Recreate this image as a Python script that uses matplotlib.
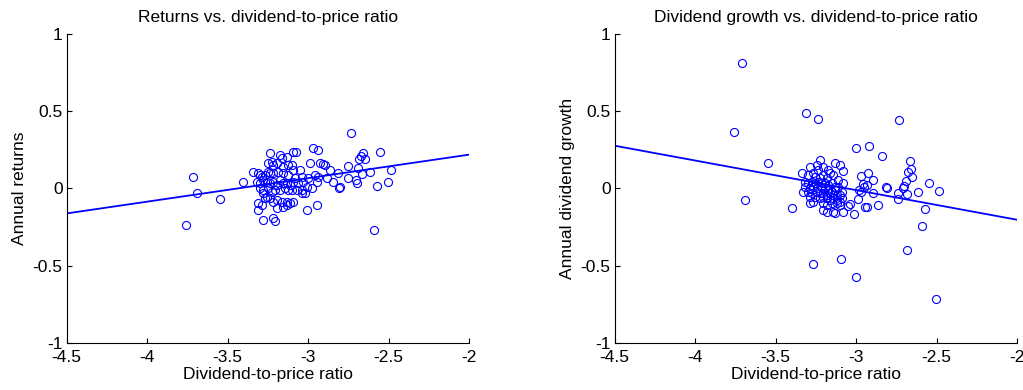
import numpy as np
import matplotlib
matplotlib.use("Agg")
import matplotlib.pyplot as plt

plt.rcParams["font.family"] = ["Liberation Sans", "DejaVu Sans"]
plt.rcParams["axes.unicode_minus"] = False

# returns vs dividend-to-price ratio (left panel)
dp_ret = [
    -3.237, -3.175, -3.133, -3.092, -3.075, -2.972, -2.937, -3.247, -3.226, -3.216,
    -3.195, -3.164, -3.154, -3.123, -3.102, -3.092, -3.050, -2.988, -2.926, -2.906,
    -2.895, -2.864, -2.812, -2.750, -3.340, -3.309, -3.299, -3.288, -3.268, -3.247,
    -3.237, -3.216, -3.185, -3.154, -3.123, -3.081, -3.040, -2.999, -2.957, -2.937,
    -2.885, -2.750, -3.402, -3.320, -3.299, -3.278, -3.257, -3.237, -3.216, -3.195,
    -3.175, -3.154, -3.133, -3.113, -3.092, -3.061, -3.030, -3.009, -2.947, -2.843,
    -2.802, -3.299, -3.278, -3.247, -3.226, -3.206, -3.175, -3.144, -3.123, -3.102,
    -3.071, -3.040, -3.019, -2.978, -3.278, -3.257, -3.237, -3.216, -3.195, -3.164,
    -3.133, -3.113, -3.092, -3.040, -3.268, -3.309, -3.288, -3.309, -3.195, -3.154,
    -3.133, -3.009, -2.947, -3.282, -3.216, -3.206,
    -2.735, -3.713, -3.761, -3.690, -3.547, -2.590, -2.551, -2.487, -2.505, -2.572,
    -2.613, -2.657, -2.673, -2.683, -2.648, -2.688, -2.667, -2.702, -2.698, -2.810,
]
ret = [
    0.228, 0.217, 0.206, 0.239, 0.239, 0.260, 0.250, 0.163, 0.174, 0.152,
    0.163, 0.196, 0.142, 0.152, 0.152, 0.120, 0.120, 0.163, 0.163, 0.159,
    0.152, 0.120, 0.098, 0.146, 0.109, 0.098, 0.088, 0.077, 0.088, 0.109,
    0.098, 0.098, 0.109, 0.098, 0.088, 0.066, 0.077, 0.066, 0.088, 0.077,
    0.066, 0.066, 0.044, 0.044, 0.034, 0.055, 0.044, 0.034, 0.044, 0.023,
    0.055, 0.034, 0.034, 0.023, 0.044, 0.034, 0.044, 0.012, 0.044, 0.044,
    0.012, 0.001, -0.010, 0.001, -0.021, -0.010, -0.010, 0.001, -0.010, -0.010,
    -0.010, -0.010, -0.031, 0.001, -0.031, -0.053, -0.064, -0.085, -0.074, -0.085,
    -0.085, -0.096, -0.085, -0.031, -0.064, -0.096, -0.107, -0.139, -0.129, -0.118,
    -0.107, -0.139, -0.107, -0.204, -0.193, -0.208,
    0.361, 0.074, -0.234, -0.028, -0.071, -0.271, 0.236, 0.119, 0.043, 0.017,
    0.104, 0.232, 0.212, 0.193, 0.188, 0.134, 0.091, 0.054, 0.037, 0.000,
]

# dividend growth vs dividend-to-price ratio (right panel)
dp_div = [
    -3.224, -3.131, -3.100, -3.079, -3.286, -3.245, -3.203, -3.172, -3.162, -3.141,
    -3.110, -3.084, -3.338, -3.297, -3.266, -3.255, -3.224, -3.203, -3.183, -3.235,
    -3.317, -3.297, -3.276, -3.255, -3.235, -3.214, -3.193, -3.172, -3.152, -3.131,
    -3.110, -3.090, -3.317, -3.286, -3.266, -3.245, -3.214, -3.193, -3.172, -3.152,
    -3.131, -3.328, -3.297, -3.276, -3.245, -3.224, -3.203, -3.183, -3.162, -3.141,
    -3.121, -3.100, -3.286, -3.255, -3.224, -3.203, -3.183, -3.162, -3.141, -3.121,
    -3.100, -3.090, -3.266, -3.286, -3.203, -3.183, -3.152, -3.121, -3.100, -3.203,
    -3.183, -3.141, -3.131, -3.079,
    -3.711, -3.309, -3.234, -2.735, -3.758, -2.998, -2.918, -2.839, -3.545, -2.665,
    -2.659, -2.675, -2.650, -2.690, -2.700, -2.708, -2.549, -2.485, -2.613, -2.684,
    -2.742, -2.742, -2.572, -2.588, -2.684, -2.503, -3.092, -3.270, -3.002, -3.688,
    -3.400, -2.814, -2.808, -2.866, -2.897, -2.893, -2.928, -2.969, -2.944, -2.932,
    -2.990, -3.011, -3.036, -3.048, -2.932, -2.953, -2.969, -2.980, -2.960,
]
div_growth = [
    0.184, 0.167, 0.152, 0.115, 0.141, 0.152, 0.141, 0.119, 0.097, 0.087,
    0.054, 0.033, 0.097, 0.087, 0.097, 0.076, 0.065, 0.087, 0.065, 0.119,
    0.043, 0.033, 0.043, 0.033, 0.043, 0.033, 0.033, 0.022, 0.033, 0.011,
    0.011, -0.022, 0.011, 0.000, 0.011, 0.000, 0.000, 0.000, -0.011, -0.022,
    -0.011, -0.022, -0.022, -0.032, -0.022, -0.032, -0.032, -0.043, -0.032, -0.043,
    -0.043, -0.043, -0.054, -0.054, -0.065, -0.054, -0.065, -0.076, -0.065, -0.076,
    -0.087, -0.065, -0.087, -0.097, -0.097, -0.108, -0.097, -0.097, -0.108, -0.141,
    -0.151, -0.151, -0.162, -0.151,
    0.814, 0.489, 0.452, 0.446, 0.368, 0.260, 0.277, 0.212, 0.165, 0.175,
    0.123, 0.108, 0.076, 0.050, 0.015, 0.006, 0.037, -0.017, -0.024, -0.039,
    -0.032, -0.067, -0.132, -0.245, -0.396, -0.716, -0.457, -0.487, -0.571, -0.078,
    -0.126, 0.011, 0.004, -0.106, -0.032, 0.054, 0.097, 0.080, -0.119, -0.119,
    -0.071, -0.165, -0.102, -0.115, 0.022, 0.011, -0.022, -0.011, 0.032,
]

# fitted lines: intercept, slope
fit_ret = (0.524, 0.1524)
fit_div = (-0.587, -0.192)

xticks = [-4.5, -4, -3.5, -3, -2.5, -2]
xticklabels = ["-4.5", "-4", "-3.5", "-3", "-2.5", "-2"]
yticks = [-1, -0.5, 0, 0.5, 1]
yticklabels = ["-1", "-0.5", "0", "0.5", "1"]

fig = plt.figure(figsize=(10.23, 3.90), dpi=100)
ax1 = fig.add_axes([0.0652, 0.1213, 0.3934, 0.791])
ax2 = fig.add_axes([0.6009, 0.1213, 0.3933, 0.791])

panels = [
    (ax1, dp_ret, ret, fit_ret, "Returns vs. dividend-to-price ratio", "Annual returns"),
    (ax2, dp_div, div_growth, fit_div, "Dividend growth vs. dividend-to-price ratio", "Annual dividend growth"),
]

for ax, x, y, fit, title, ylabel in panels:
    ax.plot(x, y, "o", mfc="none", mec="#0000ff", ms=5.8, mew=0.8)
    xl = np.array([-4.5, -2])
    ax.plot(xl, fit[0] + fit[1] * xl, color="#0000ff", lw=1.3)
    ax.set_xlim(-4.5, -2)
    ax.set_ylim(-1, 1)
    ax.set_xticks(xticks)
    ax.set_xticklabels(xticklabels)
    ax.set_yticks(yticks)
    ax.set_yticklabels(yticklabels)
    ax.tick_params(direction="in", length=3.5, width=0.8, labelsize=12.5)
    ax.tick_params(axis="x", pad=5)
    ax.tick_params(axis="y", pad=3)
    ax.spines["top"].set_visible(False)
    ax.spines["right"].set_visible(False)
    ax.set_title(title, fontsize=12.5, pad=9)
    ax.set_xlabel("Dividend-to-price ratio", fontsize=12.5, labelpad=2)
    ax.set_ylabel(ylabel, fontsize=12.5, labelpad=4)

fig.savefig("out.png", dpi=100)
